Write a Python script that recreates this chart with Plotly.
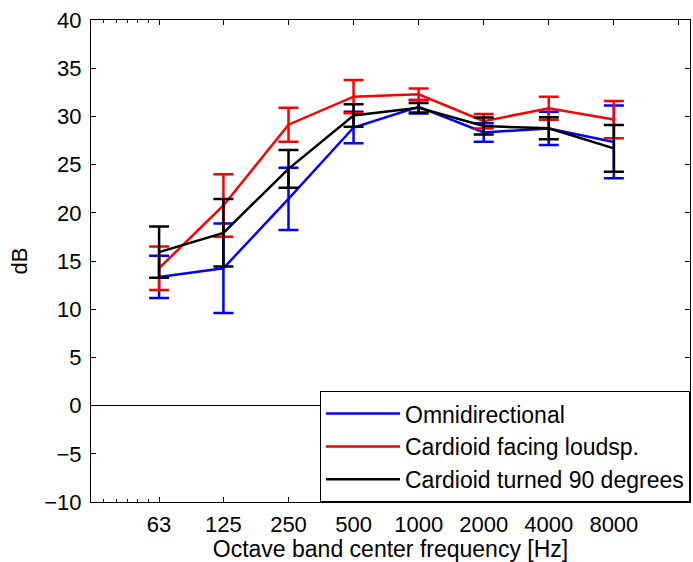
import plotly.graph_objects as go

freqs = [63, 125, 250, 500, 1000, 2000, 4000, 8000]
tick_vals = [63, 125, 250, 500, 1000, 2000, 4000, 8000, 16000]
tick_text = ["63", "125", "250", "500", "1000", "2000", "4000", "8000", ""]
minor_vals = [35, 40, 45, 50, 56]

omni_mean = [13.35, 14.25, 21.45, 28.85, 31.0, 28.33, 28.75, 27.35]
omni_err = [2.2, 4.65, 3.23, 1.64, 0.7, 0.95, 1.72, 3.77]

card_mean = [14.25, 20.76, 29.14, 32.05, 32.3, 29.5, 30.84, 29.67]
card_err = [2.25, 3.24, 1.76, 1.73, 0.6, 0.75, 1.2, 1.93]

turn_mean = [15.92, 17.92, 24.56, 30.09, 30.9, 29.0, 28.76, 26.68]
turn_err = [2.65, 3.5, 1.96, 1.16, 0.5, 0.88, 1.14, 2.42]

names = ["Omnidirectional", "Cardioid facing loudsp.", "Cardioid turned 90 degrees"]
colors = ["#0000ff", "#ff0000", "#000000"]

FONT = "Liberation Sans, Arial, Helvetica, sans-serif"
XRANGE = [1.4843, 4.2553]

fig = go.Figure()
for name, color, m, e in zip(names, colors, [omni_mean, card_mean, turn_mean], [omni_err, card_err, turn_err]):
    fig.add_trace(go.Scatter(
        x=freqs, y=m, name=name, mode="lines",
        line=dict(color=color, width=2.5),
        error_y=dict(type="data", array=e, symmetric=True, color=color, thickness=2.5, width=10),
    ))

# helper axis on top to mirror the minor ticks
fig.add_trace(go.Scatter(x=[freqs[0]], y=[None], xaxis="x2", showlegend=False,
                         hoverinfo="skip", mode="lines"))

fig.update_layout(
    width=693, height=562,
    margin=dict(l=91, r=3, t=20, b=60),
    paper_bgcolor="white", plot_bgcolor="white",
    font=dict(family=FONT, size=22, color="black"),
    showlegend=True,
    legend=dict(
        x=1, xanchor="right", y=0.115, yanchor="middle",
        bordercolor="black", borderwidth=1, bgcolor="white",
        font=dict(family=FONT, size=23, color="black"),
        itemwidth=74, tracegroupgap=0,
    ),
    xaxis2=dict(
        type="log", range=XRANGE, overlaying="x", side="top",
        tickmode="array", tickvals=tick_vals, showticklabels=False,
        ticks="inside", ticklen=5, tickcolor="black",
        showline=False, showgrid=False, zeroline=False,
        minor=dict(tickmode="array", tickvals=minor_vals, ticks="inside", ticklen=3, tickcolor="black"),
    ),
)
fig.update_xaxes(
    selector=dict(anchor="y"),
    type="log", range=XRANGE,
    tickmode="array", tickvals=tick_vals, ticktext=tick_text,
    ticks="inside", ticklen=5, tickcolor="black", tickwidth=1,
    showline=True, linecolor="black", linewidth=1, mirror="ticks",
    showgrid=False, zeroline=False,
    minor=dict(tickmode="array", tickvals=minor_vals, ticks="inside", ticklen=3, tickcolor="black"),
    title=dict(text="Octave band center frequency [Hz]", standoff=2, font=dict(size=23)),
    tickfont=dict(size=22), ticklabelstandoff=3,
)
fig.update_layout(xaxis=dict(
    type="log", range=XRANGE,
    tickmode="array", tickvals=tick_vals, ticktext=tick_text,
    ticks="inside", ticklen=5, tickcolor="black", tickwidth=1,
    showline=True, linecolor="black", linewidth=1, mirror="ticks",
    showgrid=False, zeroline=False,
    minor=dict(tickmode="array", tickvals=minor_vals, ticks="inside", ticklen=3, tickcolor="black"),
    title=dict(text="Octave band center frequency [Hz]", standoff=2, font=dict(size=23)),
    tickfont=dict(size=22), ticklabelstandoff=3,
))
fig.update_yaxes(
    range=[-10, 40], tickmode="array", tickvals=list(range(-10, 45, 5)),
    ticktext=[("\u2212" + str(-v)) if v < 0 else str(v) for v in range(-10, 45, 5)],
    ticks="inside", ticklen=5, tickcolor="black", tickwidth=1,
    showline=True, linecolor="black", linewidth=1, mirror="ticks",
    showgrid=False, zeroline=True, zerolinecolor="black", zerolinewidth=1,
    title=dict(text="dB", standoff=10, font=dict(size=22)),
    tickfont=dict(size=22), ticklabelstandoff=4,
)

fig.write_html("out.html")
